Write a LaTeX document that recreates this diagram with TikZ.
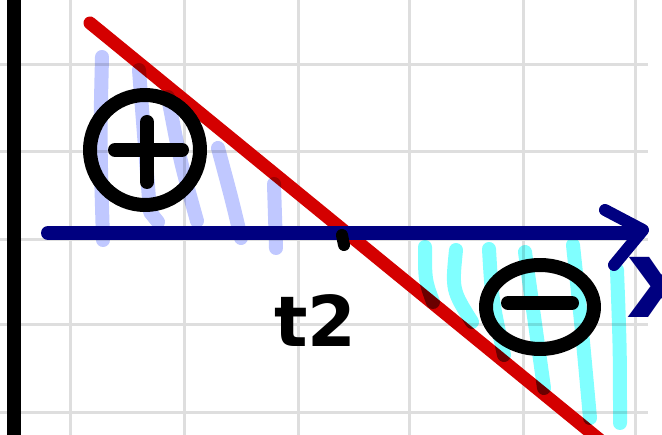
\documentclass[tikz,border=0pt]{standalone}
\usepackage{fontspec}
\setmainfont{DejaVu Sans}
\definecolor{axisnavy}{RGB}{0,0,128}
\definecolor{slopered}{RGB}{212,0,0}
\definecolor{lavender}{RGB}{192,200,255}
\definecolor{hatchcyan}{RGB}{128,255,255}
\definecolor{gridgray}{RGB}{222,222,222}
\tikzset{
  gridline/.style={draw=gridgray, line width=3pt},
  pen/.style={line width=14pt, line cap=round, line join=round},
  poshatch/.style={pen, draw=lavender},
  neghatch/.style={pen, draw=hatchcyan},
  bigtext/.style={font=\bfseries\fontsize{70}{70}\selectfont, inner sep=0pt}
}
\begin{document}
\begin{tikzpicture}[x=1pt, y=-1pt]
\useasboundingbox (0,0) rectangle (662,435);
\fill[white] (0,0) rectangle (662,435);
% grid
\foreach \gx in {70,184,298,409,523,635} \draw[gridline] (\gx,0) -- (\gx,435);
\foreach \gy in {65,152,240,325,413} \draw[gridline] (0,\gy) -- (648,\gy);
% red line
\draw[pen, draw=slopered, line width=13pt] (90,23) -- (600,440);
% hatching
\begin{scope}[blend mode=multiply]
\draw[poshatch] (102,57) .. controls (100,140) .. (103,240);
\draw[poshatch] (139,70) .. controls (146,160) .. (150,212) -- (158,222);
\draw[poshatch] (168,97) .. controls (180,160) .. (197,221);
\draw[poshatch] (218,148) .. controls (232,200) .. (241,238);
\draw[poshatch] (274,184) -- (276,248);
\draw[neghatch] (425,247) .. controls (425,280) .. (433,302);
\draw[neghatch] (456,250) .. controls (452,290) .. (472,322);
\draw[neghatch] (489,249) .. controls (492,300) .. (504,355);
\draw[neghatch] (525,252) .. controls (535,320) .. (544,388);
\draw[neghatch] (573,245) .. controls (582,330) .. (590,418);
\draw[neghatch] (617,270) .. controls (620,350) .. (620,423);
\end{scope}
% vertical black axis
\draw[black, line width=14pt] (14,-5) -- (14,440);
% horizontal navy axis with arrow
\draw[pen, draw=axisnavy] (48,233) -- (633,233);
\draw[pen, draw=axisnavy, line width=12pt] (605,210) -- (643,230) -- (614,265);
% intersection mark
\draw[pen, black, line width=12pt] (342,235) -- (344,245);
% plus sign
\draw[pen, black] (145,150) circle (55);
\draw[pen, black] (115,150) -- (182,150);
\draw[pen, black] (147,122) -- (147,182);
% minus sign
\draw[pen, black] (540,307) ellipse (54 and 42);
\draw[pen, black] (508,303) -- (572,303);
% labels
\node[bigtext, anchor=base west] (t2) at (274,347) {t2};
\node[font=\bfseries\fontsize{110}{110}\selectfont, text=axisnavy, inner sep=0pt, anchor=base west] (xlab) at (626,318) {x};
\end{tikzpicture}
\end{document}
